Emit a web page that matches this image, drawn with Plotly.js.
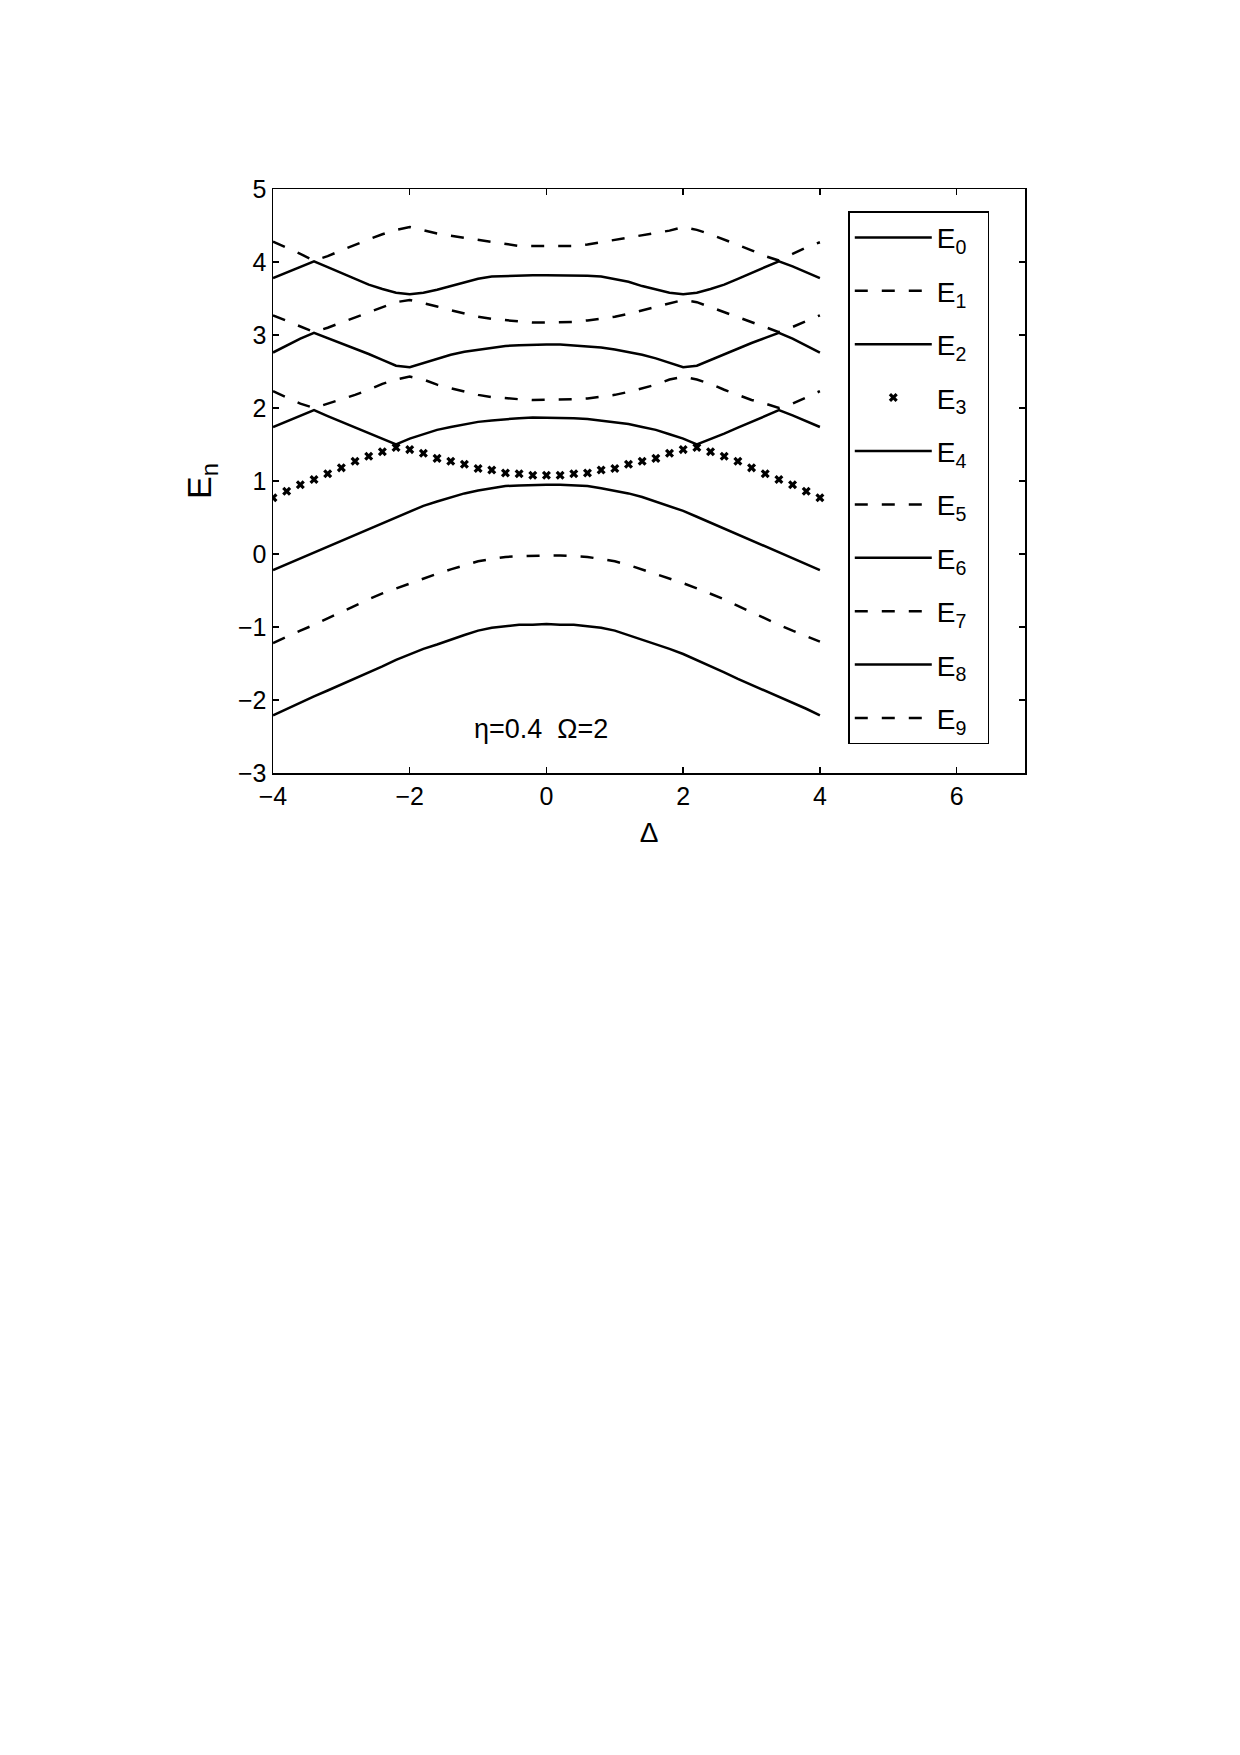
<!DOCTYPE html>
<html>
<head>
<meta charset="utf-8">
<script src="https://cdn.plot.ly/plotly-3.0.1.min.js"></script>
<style>
    body { margin: 0; background: white; }
    #chart { width: 1240px; height: 1755px; }
</style>
</head>
<body>
<div id="chart"></div>
<script>
// detuning values (step 0.2)
const delta = [-4, -3.8, -3.6, -3.4, -3.2, -3, -2.8, -2.6, -2.4, -2.2, -2, -1.8, -1.6, -1.4, -1.2, -1, -0.8, -0.6, -0.4, -0.2,
    0, 0.2, 0.4, 0.6, 0.8, 1, 1.2, 1.4, 1.6, 1.8, 2, 2.2, 2.4, 2.6, 2.8, 3, 3.2, 3.4, 3.6, 3.8, 4];

const E0 = [-2.21, -2.12, -2.03, -1.95, -1.87, -1.79, -1.71, -1.62, -1.54, -1.45, -1.37, -1.30, -1.24, -1.17, -1.11, -1.05, -1.01, -0.99, -0.97, -0.97,
    -0.96, -0.97, -0.97, -0.99, -1.01, -1.05, -1.11, -1.17, -1.24, -1.30, -1.37, -1.45, -1.54, -1.62, -1.71, -1.79, -1.87, -1.95, -2.03, -2.12, -2.21];
const E1 = [-1.22, -1.13, -1.05, -0.97, -0.88, -0.80, -0.71, -0.62, -0.54, -0.47, -0.40, -0.34, -0.27, -0.21, -0.15, -0.10, -0.07, -0.04, -0.03, -0.02,
    -0.02, -0.02, -0.03, -0.04, -0.07, -0.10, -0.15, -0.21, -0.27, -0.34, -0.40, -0.47, -0.54, -0.62, -0.71, -0.80, -0.88, -0.97, -1.05, -1.13, -1.20];
const E2 = [-0.22, -0.14, -0.06, 0.03, 0.11, 0.19, 0.27, 0.35, 0.43, 0.51, 0.59, 0.66, 0.72, 0.78, 0.83, 0.87, 0.90, 0.93, 0.94, 0.95,
    0.95, 0.95, 0.94, 0.93, 0.90, 0.87, 0.83, 0.78, 0.72, 0.66, 0.59, 0.51, 0.43, 0.35, 0.27, 0.19, 0.11, 0.03, -0.06, -0.14, -0.22];
const E3 = [0.77, 0.86, 0.95, 1.02, 1.10, 1.18, 1.27, 1.34, 1.40, 1.46, 1.43, 1.38, 1.31, 1.27, 1.23, 1.17, 1.15, 1.11, 1.10, 1.08,
    1.08, 1.08, 1.10, 1.11, 1.15, 1.17, 1.23, 1.27, 1.31, 1.38, 1.43, 1.46, 1.40, 1.34, 1.27, 1.18, 1.10, 1.02, 0.95, 0.86, 0.77];
const E4 = [1.74, 1.82, 1.90, 1.97, 1.89, 1.81, 1.73, 1.65, 1.57, 1.50, 1.58, 1.64, 1.70, 1.74, 1.78, 1.81, 1.83, 1.85, 1.86, 1.87,
    1.87, 1.87, 1.86, 1.85, 1.83, 1.81, 1.78, 1.74, 1.70, 1.64, 1.58, 1.50, 1.57, 1.65, 1.73, 1.81, 1.89, 1.97, 1.90, 1.82, 1.74];
const E5 = [2.23, 2.14, 2.06, 2.00, 2.06, 2.11, 2.18, 2.25, 2.33, 2.39, 2.43, 2.39, 2.32, 2.27, 2.22, 2.18, 2.15, 2.13, 2.12, 2.11,
    2.11, 2.11, 2.12, 2.13, 2.15, 2.18, 2.22, 2.27, 2.32, 2.39, 2.43, 2.39, 2.33, 2.25, 2.18, 2.11, 2.06, 2.00, 2.06, 2.14, 2.23];
const E6 = [2.76, 2.86, 2.95, 3.03, 2.96, 2.89, 2.81, 2.74, 2.66, 2.58, 2.56, 2.62, 2.68, 2.73, 2.77, 2.80, 2.83, 2.85, 2.86, 2.87,
    2.87, 2.87, 2.86, 2.85, 2.83, 2.80, 2.77, 2.73, 2.68, 2.62, 2.56, 2.58, 2.66, 2.74, 2.81, 2.89, 2.96, 3.03, 2.95, 2.86, 2.76];
const E7 = [3.27, 3.19, 3.11, 3.04, 3.10, 3.17, 3.24, 3.31, 3.38, 3.45, 3.48, 3.44, 3.39, 3.34, 3.29, 3.25, 3.22, 3.20, 3.18, 3.17,
    3.17, 3.17, 3.18, 3.20, 3.22, 3.25, 3.29, 3.34, 3.39, 3.44, 3.48, 3.45, 3.38, 3.31, 3.24, 3.17, 3.10, 3.04, 3.11, 3.19, 3.27];
const E8 = [3.78, 3.86, 3.94, 4.01, 3.93, 3.85, 3.77, 3.69, 3.63, 3.58, 3.56, 3.58, 3.62, 3.67, 3.73, 3.77, 3.80, 3.81, 3.82, 3.82,
    3.82, 3.82, 3.82, 3.81, 3.80, 3.77, 3.73, 3.67, 3.62, 3.58, 3.56, 3.58, 3.63, 3.69, 3.77, 3.85, 3.93, 4.01, 3.94, 3.86, 3.78];
const E9 = [4.28, 4.20, 4.11, 4.02, 4.08, 4.16, 4.24, 4.31, 4.38, 4.44, 4.48, 4.43, 4.39, 4.36, 4.33, 4.30, 4.27, 4.24, 4.22, 4.22,
    4.22, 4.22, 4.22, 4.24, 4.27, 4.30, 4.33, 4.36, 4.39, 4.43, 4.48, 4.44, 4.38, 4.31, 4.24, 4.16, 4.08, 4.02, 4.11, 4.20, 4.27];

const levels = [E0, E1, E2, E3, E4, E5, E6, E7, E8, E9];
const levelNames = ['E<sub>0</sub>', 'E<sub>1</sub>', 'E<sub>2</sub>', 'E<sub>3</sub>', 'E<sub>4</sub>',
    'E<sub>5</sub>', 'E<sub>6</sub>', 'E<sub>7</sub>', 'E<sub>8</sub>', 'E<sub>9</sub>'];
const levelStyles = ['solid', 'dash', 'solid', 'cross', 'solid', 'dash', 'solid', 'dash', 'solid', 'dash'];

const xTicks = [-4, -2, 0, 2, 4, 6];
const yTicks = [-3, -2, -1, 0, 1, 2, 3, 4, 5];

const FONT = 'Liberation Sans, Arial, Helvetica, sans-serif';

const config = {
    displayModeBar: false,
    staticPlot: true
};

function make_trace(yValues, name, style, i) {
    // trailing spaces only pad the legend box on the right, like the original
    const trace = {x: delta, y: yValues, name: name + '\u00a0\u00a0', legendgroup: 'g' + i, showlegend: true};
    if (style === 'cross') {
        trace.mode = 'markers';
        trace.marker = {symbol: 'x', size: 8, color: 'black', line: {width: 0}};
    } else {
        trace.mode = 'lines';
        trace.line = {color: 'black', width: 2.5, dash: style === 'dash' ? '13px,14px' : 'solid'};
    }
    return trace;
}

const traces = [];
for (let i = 0; i < levels.length; i++) {
    traces.push(make_trace(levels[i], levelNames[i], levelStyles[i], i));
}

const axisCommon = {
    showgrid: false,
    zeroline: false,
    showline: true,
    linecolor: 'black',
    linewidth: 1.5,
    mirror: 'ticks',
    ticks: 'inside',
    ticklen: 6,
    tickwidth: 1.5,
    tickcolor: 'black',
    tickfont: {family: FONT, size: 25, color: 'black'}
};

const layout = {
    width: 1240,
    height: 1755,
    paper_bgcolor: 'white',
    plot_bgcolor: 'white',
    margin: {l: 273, r: 215, t: 189, b: 982},
    font: {family: FONT, color: 'black'},
    xaxis: Object.assign({}, axisCommon, {
        range: [-4, 7],
        tickvals: xTicks,
        title: {text: 'Δ', font: {family: FONT, size: 28}, standoff: 14}
    }),
    yaxis: Object.assign({}, axisCommon, {
        range: [-3, 5],
        tickvals: yTicks,
        title: {text: 'E<sub>n</sub>', font: {family: FONT, size: 34}, standoff: 16}
    }),
    legend: {
        x: 0.765, xanchor: 'left',
        y: 0.962, yanchor: 'top',
        bgcolor: 'white',
        bordercolor: 'black',
        borderwidth: 1.5,
        font: {family: FONT, size: 28, color: 'black'},
        itemwidth: 77,
        tracegroupgap: 14,
        traceorder: 'grouped'
    },
    annotations: [{
        x: -0.08, y: -2.4, xref: 'x', yref: 'y',
        text: 'η=0.4\u00a0\u00a0Ω=2',
        showarrow: false,
        font: {family: FONT, size: 27, color: 'black'}
    }]
};

Plotly.newPlot('chart', traces, layout, config);
</script>
</body>
</html>
